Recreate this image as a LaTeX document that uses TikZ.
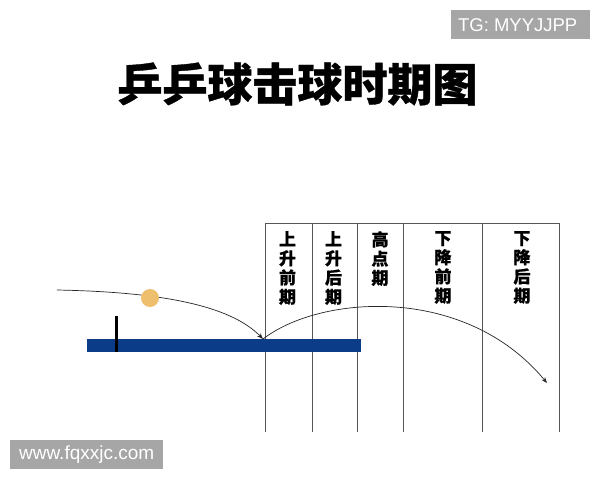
\documentclass[tikz,border=0pt]{standalone}
\usepackage{fontspec}
\setmainfont{Liberation Sans}
\newfontfamily\cjk[FakeBold=0.4]{Noto Sans CJK SC}
\newfontfamily\cjktitle[FakeBold=0.8]{Noto Sans CJK SC}
\usetikzlibrary{arrows.meta}
\definecolor{tableblue}{HTML}{0B3C87}
\definecolor{ballcol}{HTML}{EEC06E}
\definecolor{wmgray}{HTML}{A6A6A6}
\definecolor{linegray}{HTML}{555555}
\tikzset{
  wm/.style={fill=wmgray, text=white, inner sep=0pt, anchor=north west},
  colline/.style={draw=linegray, line width=0.8pt},
  traj/.style={draw=black!85, line width=0.7pt, -{Stealth[length=6pt,width=4.5pt]}},
  collabel/.style={anchor=north, inner sep=0pt, align=center, font=\cjk\bfseries\fontsize{17}{19.2}\selectfont},
}
\begin{document}
\begin{tikzpicture}[x=1pt,y=-1pt]
\useasboundingbox (0,0) rectangle (600,480);
\fill[white] (0,0) rectangle (600,480);
% watermarks
\node[wm, minimum width=139pt, minimum height=29pt] (tg) at (451,10) {};
\node[text=white, font=\fontsize{18.5}{18.5}\selectfont, inner sep=0pt] (tgtext) at ([xshift=-3pt]tg.center) {TG: MYYJJPP};
\node[wm, minimum width=153pt, minimum height=29pt] (www) at (10,440) {};
\node[text=white, font=\fontsize{19}{19}\selectfont, inner sep=0pt] (wwwtext) at (www.center) {www.fqxxjc.com};
% title
\node[font=\cjktitle\bfseries\fontsize{45}{45}\selectfont, inner sep=0pt] (title) at (297.5,84) {乒乒球击球时期图};
% columns
\coordinate (c1t) at (265,223); \coordinate (c1b) at (265,432);
\coordinate (c2t) at (312,223); \coordinate (c2b) at (312,432);
\coordinate (c3t) at (357,223); \coordinate (c3b) at (357,432);
\coordinate (c4t) at (403,223); \coordinate (c4b) at (403,432);
\coordinate (c5t) at (482,223); \coordinate (c5b) at (482,432);
\coordinate (c6t) at (559,223); \coordinate (c6b) at (559,432);
\draw[colline] (c1b) -- (c1t) -- (c6t) -- (c6b);
\draw[colline] (c2t) -- (c2b);
\draw[colline] (c3t) -- (c3b);
\draw[colline] (c4t) -- (c4b);
\draw[colline] (c5t) -- (c5b);
\node[collabel] (l1) at (287.5,231) {上\\升\\前\\期};
\node[collabel] (l2) at (333.5,231) {上\\升\\后\\期};
\node[collabel] (l3) at (380,231) {高\\点\\期};
\node[collabel] (l4) at (443,231) {下\\降\\前\\期};
\node[collabel] (l5) at (522,231) {下\\降\\后\\期};
% table
\fill[tableblue] (87,339) rectangle (361,352);
\draw[line width=3pt, black] (116,316) -- (116,352);
% trajectories
\coordinate (start) at (57,290);
\coordinate (bounce) at (263,339);
\coordinate (endpt) at (547,383);
\draw[traj] (start) .. controls (160,292) and (230,305) .. (bounce);
\node[circle, fill=ballcol, minimum size=18pt, inner sep=0pt] (ball) at (150,298) {};
\draw[traj] (bounce) .. controls (320,295) and (465,284) .. (endpt);
\end{tikzpicture}
\end{document}
